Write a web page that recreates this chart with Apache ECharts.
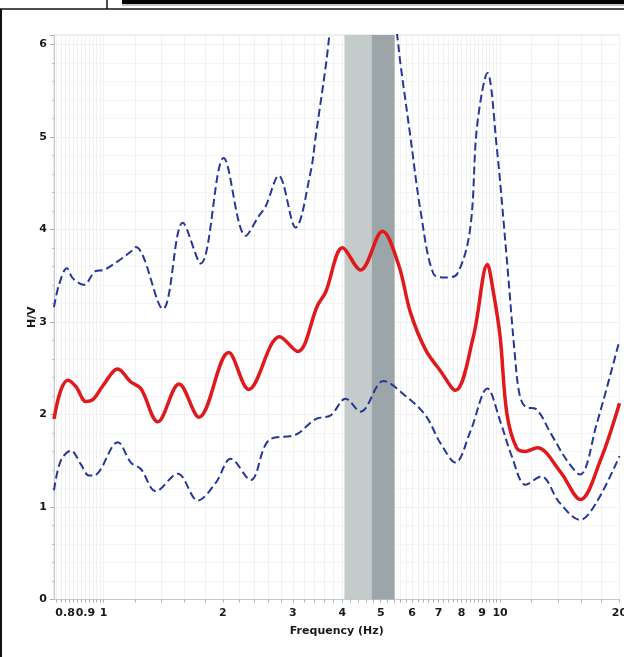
<!DOCTYPE html>
<html>
<head>
<meta charset="utf-8">
<script src="https://cdn.jsdelivr.net/npm/echarts@6/dist/echarts.min.js"></script>
<style>
  html, body { margin: 0; padding: 0; background: #fff; }
  #chart { width: 624px; height: 657px; }
</style>
</head>
<body>
<div id="chart"></div>
<script>
// ---- Data ----
const tickFreqs  = [0.8, 0.9, 1, 2, 3, 4, 5, 6, 7, 8, 9, 10, 20];
const tickLabels = ['0.8', '0.9', '1', '2', '3', '4', '5', '6', '7', '8', '9', '10', '20'];
const yTickLabels = ['0', '1', '2', '3', '4', '5', '6'];

// Mean H/V curve (red)
const meanFreq = [0.75, 0.78, 0.813, 0.852, 0.903, 0.945, 0.996, 1.086, 1.172, 1.242, 1.37, 1.55, 1.74, 2.068, 2.323, 2.78, 3.086, 3.466, 3.63, 4.007, 4.448, 5.05, 5.543, 5.943, 6.484, 7.072, 7.715, 8.56, 9.29, 9.6, 10.0, 10.4, 11.0, 11.6, 12.4, 14.19, 15.94, 17.89, 20];
const meanHV   = [1.95, 2.26, 2.37, 2.30, 2.14, 2.17, 2.31, 2.49, 2.35, 2.28, 1.92, 2.33, 1.97, 2.67, 2.27, 2.84, 2.68, 3.18, 3.32, 3.80, 3.56, 3.98, 3.62, 3.10, 2.70, 2.47, 2.26, 2.84, 3.62, 3.34, 2.84, 2.01, 1.64, 1.60, 1.64, 1.38, 1.08, 1.50, 2.12];

// Upper standard deviation curve (blue dashed)
const upperFreq = [0.75, 0.772, 0.808, 0.837, 0.892, 0.956, 1.0, 1.074, 1.172, 1.206, 1.411, 1.584, 1.758, 2.009, 2.283, 2.461, 2.564, 2.764, 3.05, 3.328, 3.426, 3.63, 3.85, 4.3, 4.9, 5.45, 5.61, 5.94, 6.3, 6.79, 7.28, 7.8, 8.4, 8.75, 9.29, 9.8, 10.4, 10.9, 11.2, 11.6, 12.3, 13.4, 14.7, 15.9, 17.5, 20];
const upperHV   = [3.16, 3.40, 3.58, 3.47, 3.40, 3.55, 3.56, 3.64, 3.76, 3.81, 3.14, 4.07, 3.63, 4.77, 3.93, 4.14, 4.25, 4.58, 4.02, 4.62, 5.00, 5.75, 6.60, 7.40, 7.10, 6.20, 5.78, 5.00, 4.20, 3.52, 3.48, 3.52, 4.00, 5.12, 5.69, 4.90, 3.67, 2.63, 2.21, 2.08, 2.06, 1.80, 1.51, 1.35, 1.89, 2.80];

// Lower standard deviation curve (blue dashed)
const lowerFreq = [0.75, 0.78, 0.827, 0.877, 0.918, 0.945, 1.086, 1.172, 1.242, 1.354, 1.539, 1.728, 1.918, 2.093, 2.35, 2.609, 3.05, 3.426, 3.737, 4.077, 4.448, 5.082, 5.773, 6.484, 7.07, 7.715, 8.418, 9.29, 10.0, 10.7, 11.6, 12.7, 14.1, 15.9, 17.5, 20];
const lowerHV   = [1.18, 1.50, 1.61, 1.46, 1.34, 1.34, 1.70, 1.48, 1.41, 1.17, 1.36, 1.07, 1.26, 1.52, 1.29, 1.72, 1.78, 1.95, 1.99, 2.17, 2.03, 2.36, 2.20, 1.99, 1.69, 1.48, 1.82, 2.28, 1.93, 1.55, 1.24, 1.33, 1.05, 0.86, 1.05, 1.55];

// Peak frequency bands (Hz)
const bandLight = [4.05, 4.74];
const bandDark  = [4.74, 5.42];

// ---- Build ----
const zip = (fs, vs) => fs.map((f, i) => [f, vs[i]]);

// minor tick positions along the log frequency axis
const minorTicks = [];
for (let v = 76; v <= 100; v += 2) minorTicks.push(v / 100);
for (let v = 12; v <= 100; v += 2) minorTicks.push(v / 10);
for (let v = 12; v <= 20; v += 2) minorTicks.push(v);

const labelFont = { fontFamily: 'DejaVu Sans', fontWeight: 'bold', fontSize: 11, color: '#1a1a1a' };

const chart = echarts.init(document.getElementById('chart'), null, { renderer: 'canvas' });
chart.setOption({
  animation: false,
  backgroundColor: '#ffffff',
  grid: {
    left: 54, right: 4.5, top: 35, bottom: 57.5,
    containLabel: false, outerBoundsMode: 'none',
    show: true, borderColor: '#dcdcdc', borderWidth: 1, backgroundColor: 'transparent'
  },
  xAxis: {
    type: 'log', logBase: 10, min: 0.75, max: 20,
    name: 'Frequency (Hz)', nameLocation: 'middle', nameGap: 26, nameMoveOverlap: false,
    nameTextStyle: { fontFamily: 'DejaVu Sans', fontWeight: 'bold', fontSize: 11, color: '#1a1a1a' },
    axisLine: { show: true, lineStyle: { color: '#c8c8c8', width: 1 } },
    axisTick: { show: true, customValues: minorTicks, length: 3, lineStyle: { color: '#b0b0b0' } },
    axisLabel: Object.assign({
      customValues: tickFreqs, margin: 8, hideOverlap: false,
      formatter: function (v) {
        let best = 0;
        for (let i = 1; i < tickFreqs.length; i++) if (Math.abs(tickFreqs[i] - v) < Math.abs(tickFreqs[best] - v)) best = i;
        return tickLabels[best];
      }
    }, labelFont),
    splitLine: { show: true, lineStyle: { color: '#f1f1f1', width: 1 } },
    minorTick: { show: false }
  },
  yAxis: {
    type: 'value', min: 0, max: 6.1, interval: 1,
    name: 'H/V', nameLocation: 'middle', nameGap: 16, nameMoveOverlap: false,
    nameTextStyle: { fontFamily: 'DejaVu Sans', fontWeight: 'bold', fontSize: 11, color: '#1a1a1a' },
    axisLine: { show: true, lineStyle: { color: '#c8c8c8' } },
    axisTick: { show: true, length: 4, lineStyle: { color: '#b0b0b0' } },
    minorTick: { show: true, splitNumber: 5, length: 2, lineStyle: { color: '#c0c0c0' } },
    axisLabel: Object.assign({
      margin: 7, showMaxLabel: false,
      formatter: function (v) { const r = Math.round(v); return Math.abs(v - r) < 1e-6 ? yTickLabels[r] : ''; }
    }, labelFont),
    splitLine: { show: true, lineStyle: { color: '#efefef' } },
    minorSplitLine: { show: true, lineStyle: { color: '#f6f6f6' } }
  },
  series: [
    {
      name: 'band', type: 'line', data: [], silent: true,
      markArea: {
        silent: true,
        data: [
          [{ xAxis: bandLight[0], itemStyle: { color: '#c4cbcb' } }, { xAxis: bandLight[1] }],
          [{ xAxis: bandDark[0], itemStyle: { color: '#9ca5a8' } }, { xAxis: bandDark[1] }]
        ]
      }
    },
    {
      name: 'upper', type: 'line', data: zip(upperFreq, upperHV), showSymbol: false, smooth: 0.35, z: 3,
      lineStyle: { color: '#26369a', width: 2, type: [8, 4] }
    },
    {
      name: 'lower', type: 'line', data: zip(lowerFreq, lowerHV), showSymbol: false, smooth: 0.35, z: 3,
      lineStyle: { color: '#26369a', width: 2, type: [8, 4] }
    },
    {
      name: 'mean', type: 'line', data: zip(meanFreq, meanHV), showSymbol: false, smooth: 0.35, z: 4,
      lineStyle: { color: '#e0191c', width: 3.5 }
    }
  ],
  graphic: [
    { type: 'rect', shape: { x: 122, y: 0, width: 502, height: 4 }, style: { fill: '#000' }, silent: true },
    { type: 'line', shape: { x1: 122, y1: 5, x2: 624, y2: 5 }, style: { stroke: '#888', lineWidth: 1 }, silent: true },
    { type: 'line', shape: { x1: 0, y1: 9, x2: 624, y2: 9 }, style: { stroke: '#111', lineWidth: 1.5 }, silent: true },
    { type: 'line', shape: { x1: 107, y1: 0, x2: 107, y2: 9 }, style: { stroke: '#111', lineWidth: 1.5 }, silent: true },
    { type: 'line', shape: { x1: 1, y1: 9, x2: 1, y2: 657 }, style: { stroke: '#111', lineWidth: 2 }, silent: true }
  ]
});
</script>
</body>
</html>
